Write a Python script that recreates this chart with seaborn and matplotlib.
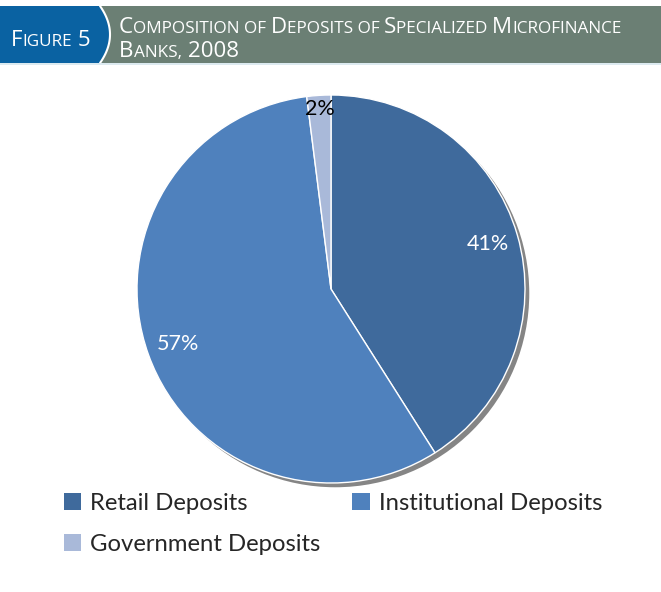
import numpy as np
import matplotlib
matplotlib.use("Agg")
import matplotlib.pyplot as plt
import seaborn as sns
from matplotlib.patches import Rectangle, Polygon, Circle, Patch
from matplotlib.lines import Line2D
from matplotlib.offsetbox import TextArea, HPacker, AnchoredOffsetbox

# Deposit composition, 2008 (%)
categories = ["Retail Deposits", "Institutional Deposits", "Government Deposits"]
shares = [41, 57, 2]
colors = ["#3f6a9c", "#4f81bd", "#a9b9d9"]
label_colors = ["white", "white", "black"]

sns.set_theme(style="white")
plt.rcParams["font.family"] = ["Lato", "DejaVu Sans"]

W, H = 661, 592
fig = plt.figure(figsize=(W / 100, H / 100), dpi=100)
fig.patch.set_facecolor("white")


def fx(px):
    return px / W


def fy(py):
    return 1 - py / H


# ---- header band ----
top, bot = 6, 63
fig.patches.append(Rectangle((fx(96), fy(bot)), fx(W - 96), (bot - top) / H,
                             transform=fig.transFigure, facecolor="#6b7f74",
                             edgecolor="none", zorder=1))
ys = np.linspace(top, bot, 40)
mid = (top + bot) / 2
arc_x = 100 + 10 * (1 - ((ys - mid) / ((bot - top) / 2)) ** 2)
blue_pts = [(fx(0), fy(top))] + [(fx(x), fy(y)) for x, y in zip(arc_x, ys)] + [(fx(0), fy(bot))]
fig.patches.append(Polygon(blue_pts, closed=True, transform=fig.transFigure,
                           facecolor="#0a62a2", edgecolor="none", zorder=2))
fig.lines.append(Line2D([fx(x) for x in arc_x], [fy(y) for y in ys],
                        transform=fig.transFigure, color="white", lw=1.5, zorder=3))
fig.lines.append(Line2D([0, 1], [fy(bot + 1), fy(bot + 1)], transform=fig.transFigure,
                        color="#d5e6ee", lw=1.2, zorder=3))


def small_caps(runs, x, y, big=16.1, small=12.3, color="white"):
    boxes = []
    for txt, is_big in runs:
        boxes.append(TextArea(txt, textprops=dict(color=color, fontsize=big if is_big else small,
                                                  family=["Open Sans", "DejaVu Sans"])))
    pack = HPacker(children=boxes, align="baseline", pad=0, sep=0)
    ab = AnchoredOffsetbox(loc="lower left", child=pack, pad=0, borderpad=0,
                           frameon=False, bbox_to_anchor=(fx(x), fy(y)),
                           bbox_transform=fig.transFigure)
    ab.set_zorder(5)
    fig.add_artist(ab)


small_caps([("F", True), ("IGURE", False), ("\u00a05", True)], 11, 51)
small_caps([("C", True), ("OMPOSITION\u00a0OF\u00a0", False), ("D", True),
            ("EPOSITS\u00a0OF\u00a0", False), ("S", True), ("PECIALIZED\u00a0", False),
            ("M", True), ("ICROFINANCE", False)], 119, 38)
small_caps([("B", True), ("ANKS,", False), ("\u00a02008", True)], 119, 62)

# ---- pie ----
cx, cy, r = 331, 289, 194
ax = fig.add_axes([fx(cx - r), fy(cy + r), 2 * r / W, 2 * r / H])

ax.add_patch(Circle((0.022, -0.022), 1.0, facecolor="#858585", edgecolor="none",
                    zorder=0, clip_on=False))
wedges, texts, autotexts = ax.pie(
    shares, colors=colors, startangle=90, counterclock=False,
    autopct=lambda p: f"{p:.0f}%", pctdistance=0.84, radius=1.0,
    wedgeprops=dict(edgecolor="white", linewidth=1.0, clip_on=False),
    textprops=dict(fontsize=15.5, family=["Lato", "DejaVu Sans"]),
)
ax.set_xlim(-1, 1)
ax.set_ylim(-1, 1)
ax.set_aspect("equal")
ax.axis("off")
for t, c in zip(autotexts, label_colors):
    t.set_color(c)
# the thin slice carries its label near the rim
w = wedges[2]
ang = np.deg2rad((w.theta1 + w.theta2) / 2)
autotexts[2].set_position((0.93 * np.cos(ang), 0.93 * np.sin(ang)))

# ---- legend: two columns, filled column-wise ----
order = [0, 2, 1]
handles = [Patch(facecolor=colors[i], edgecolor="none") for i in order]
labels = [categories[i] for i in order]
fig.legend(handles, labels, ncol=2, loc="upper left",
           bbox_to_anchor=(fx(54), fy(483)), frameon=False,
           prop=dict(family=["Lato", "DejaVu Sans"], size=17.2),
           handlelength=0.75, handleheight=0.75, handletextpad=0.35,
           columnspacing=1.35, labelspacing=0.85, borderaxespad=0)

fig.savefig("out.png", dpi=100)
